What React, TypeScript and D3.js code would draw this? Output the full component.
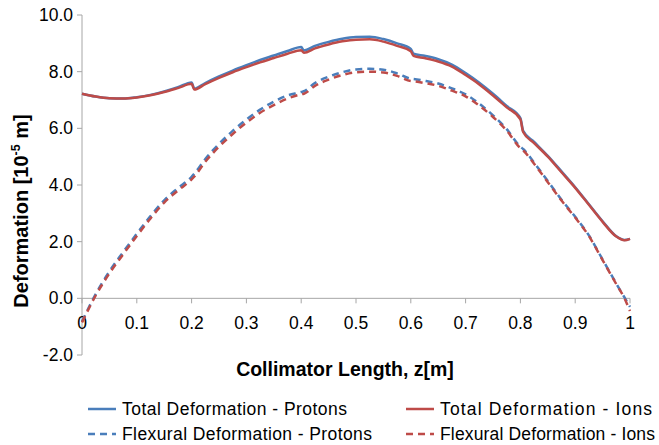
import React, { useRef, useEffect } from 'react';
import * as d3 from 'd3';

// collimator length z [m]
const zValues = [0, 0.025, 0.05, 0.075, 0.1, 0.125, 0.15, 0.175, 0.2, 0.205, 0.225, 0.25, 0.275, 0.3, 0.325, 0.35, 0.375, 0.4, 0.405, 0.425, 0.45, 0.475, 0.5, 0.525, 0.55, 0.575, 0.6, 0.605, 0.625, 0.65, 0.675, 0.7, 0.725, 0.75, 0.775, 0.8, 0.805, 0.825, 0.85, 0.875, 0.9, 0.925, 0.95, 0.975, 0.99, 1.0];

// deformation [1e-5 m]
const totalProtons = [7.22, 7.12, 7.06, 7.05, 7.1, 7.18, 7.3, 7.45, 7.62, 7.4, 7.6, 7.83, 8.04, 8.23, 8.41, 8.57, 8.73, 8.87, 8.75, 8.91, 9.05, 9.16, 9.22, 9.23, 9.15, 9.0, 8.8, 8.64, 8.56, 8.44, 8.25, 7.95, 7.61, 7.22, 6.79, 6.36, 5.91, 5.52, 5.03, 4.48, 3.92, 3.32, 2.72, 2.19, 2.06, 2.1];
const totalIons = [7.22, 7.12, 7.06, 7.05, 7.09, 7.17, 7.28, 7.42, 7.57, 7.37, 7.56, 7.78, 7.98, 8.16, 8.33, 8.48, 8.63, 8.76, 8.67, 8.82, 8.96, 9.07, 9.13, 9.14, 9.06, 8.91, 8.72, 8.56, 8.48, 8.36, 8.18, 7.88, 7.55, 7.16, 6.74, 6.32, 5.87, 5.48, 5.0, 4.45, 3.9, 3.3, 2.7, 2.18, 2.05, 2.1];
const flexProtons = [-0.82, 0.15, 0.95, 1.63, 2.28, 2.9, 3.46, 3.89, 4.29, 4.4, 4.92, 5.45, 5.91, 6.31, 6.66, 6.94, 7.16, 7.28, 7.31, 7.6, 7.82, 7.98, 8.08, 8.1, 8.07, 7.94, 7.75, 7.74, 7.68, 7.58, 7.41, 7.2, 6.87, 6.46, 5.97, 5.35, 5.27, 4.79, 4.14, 3.48, 2.88, 2.22, 1.37, 0.52, 0.03, -0.3];
const flexIons = [-0.85, 0.1, 0.88, 1.55, 2.2, 2.82, 3.38, 3.8, 4.2, 4.3, 4.82, 5.35, 5.8, 6.2, 6.55, 6.82, 7.05, 7.2, 7.22, 7.5, 7.72, 7.88, 7.98, 8.0, 7.97, 7.85, 7.67, 7.66, 7.6, 7.5, 7.33, 7.13, 6.8, 6.4, 5.92, 5.3, 5.22, 4.75, 4.1, 3.45, 2.85, 2.2, 1.35, 0.5, 0.0, -0.45];

const xTicks = [0, 0.1, 0.2, 0.3, 0.4, 0.5, 0.6, 0.7, 0.8, 0.9, 1];
const yTicks = [-2, 0, 2, 4, 6, 8, 10];

const BLUE = '#4a7ebb';
const RED = '#be4b48';
const AXIS = '#a6a6a6';
const FONT = '"Liberation Sans", Arial, sans-serif';

const series = [
  { name: 'Total Deformation - Protons', values: totalProtons, color: BLUE, dashed: false },
  { name: 'Total Deformation - Ions', values: totalIons, color: RED, dashed: false },
  { name: 'Flexural Deformation - Protons', values: flexProtons, color: BLUE, dashed: true },
  { name: 'Flexural Deformation - Ions', values: flexIons, color: RED, dashed: true },
];

export default function App() {
  const svgRef = useRef<SVGSVGElement>(null);
  const width = 659;
  const height = 445;

  useEffect(() => {
    if (!svgRef.current) return;
    const svg = d3.select(svgRef.current);
    svg.selectAll('*').remove();

    const x = d3.scaleLinear().domain([0, 1]).range([82, 630]);
    const y = d3.scaleLinear().domain([-2, 10]).range([355, 15]);

    // y axis
    svg.append('line')
      .attr('x1', x(0)).attr('x2', x(0))
      .attr('y1', y(10)).attr('y2', y(-2))
      .attr('stroke', AXIS).attr('stroke-width', 1);

    svg.selectAll('.ytick')
      .data(yTicks)
      .join('line')
      .attr('class', 'ytick')
      .attr('x1', x(0) - 5).attr('x2', x(0))
      .attr('y1', d => y(d)).attr('y2', d => y(d))
      .attr('stroke', AXIS);

    svg.selectAll('.ylabel')
      .data(yTicks)
      .join('text')
      .attr('class', 'ylabel')
      .attr('x', 73)
      .attr('y', d => y(d) + 6)
      .attr('text-anchor', 'end')
      .style('font-family', FONT)
      .style('font-size', '17.5px')
      .style('fill', '#000')
      .text(d => d.toFixed(1)); // plain hyphen for negatives

    // x axis at zero
    svg.append('line')
      .attr('x1', x(0)).attr('x2', x(1))
      .attr('y1', y(0)).attr('y2', y(0))
      .attr('stroke', AXIS);

    svg.selectAll('.xtick')
      .data(xTicks)
      .join('line')
      .attr('class', 'xtick')
      .attr('x1', d => x(d)).attr('x2', d => x(d))
      .attr('y1', y(0)).attr('y2', y(0) + 5)
      .attr('stroke', AXIS);

    svg.selectAll('.xlabel')
      .data(xTicks)
      .join('text')
      .attr('class', 'xlabel')
      .attr('x', d => x(d))
      .attr('y', y(0) + 31)
      .attr('text-anchor', 'middle')
      .style('font-family', FONT)
      .style('font-size', '17.5px')
      .style('fill', '#000')
      .text(d => String(d));

    // lines
    const line = d3.line<number>()
      .x((d, i) => x(zValues[i]))
      .y(d => y(d))
      .curve(d3.curveMonotoneX);

    series.forEach(s => {
      svg.append('path')
        .datum(s.values)
        .attr('d', line)
        .attr('fill', 'none')
        .attr('stroke', s.color)
        .attr('stroke-width', 2.5)
        .attr('stroke-dasharray', s.dashed ? '7,5' : null);
    });

    // axis titles
    svg.append('text')
      .attr('x', 345)
      .attr('y', 376)
      .attr('text-anchor', 'middle')
      .style('font-family', FONT)
      .style('font-size', '19.5px')
      .style('font-weight', 'bold')
      .text('Collimator Length, z[m]');

    const yTitle = svg.append('text')
      .attr('transform', 'translate(28, 211) rotate(-90)')
      .attr('text-anchor', 'middle')
      .style('font-family', FONT)
      .style('font-size', '20px')
      .style('font-weight', 'bold');
    yTitle.append('tspan').text('Deformation [10');
    yTitle.append('tspan').attr('dy', -8).style('font-size', '12.5px').text('-5');
    yTitle.append('tspan').attr('dy', 8).text(' m]');

    // legend
    const legendPos = [
      { x: 88, y: 409, w: 225 },
      { x: 406, y: 409, w: 212 },
      { x: 88, y: 434, w: 250 },
      { x: 406, y: 434, w: 215 },
    ];
    const legend = svg.selectAll('.legend-item')
      .data(series)
      .join('g')
      .attr('class', 'legend-item')
      .attr('transform', (d, i) => `translate(${legendPos[i].x}, ${legendPos[i].y})`);

    legend.append('line')
      .attr('x1', 0).attr('x2', 28)
      .attr('y1', 0).attr('y2', 0)
      .attr('stroke', d => d.color)
      .attr('stroke-width', 2.5)
      .attr('stroke-dasharray', d => d.dashed ? '7,5' : null);

    legend.append('text')
      .attr('x', 34)
      .attr('y', 6)
      .attr('textLength', (d, i) => legendPos[i].w)
      .attr('lengthAdjust', 'spacing')
      .style('font-family', FONT)
      .style('font-size', '17.5px')
      .style('fill', '#000')
      .text(d => d.name);
  }, []);

  return (
    <svg ref={svgRef} width={width} height={height}
      style={{ position: 'absolute', left: 0, top: 0, background: '#fff' }} />
  );
}
